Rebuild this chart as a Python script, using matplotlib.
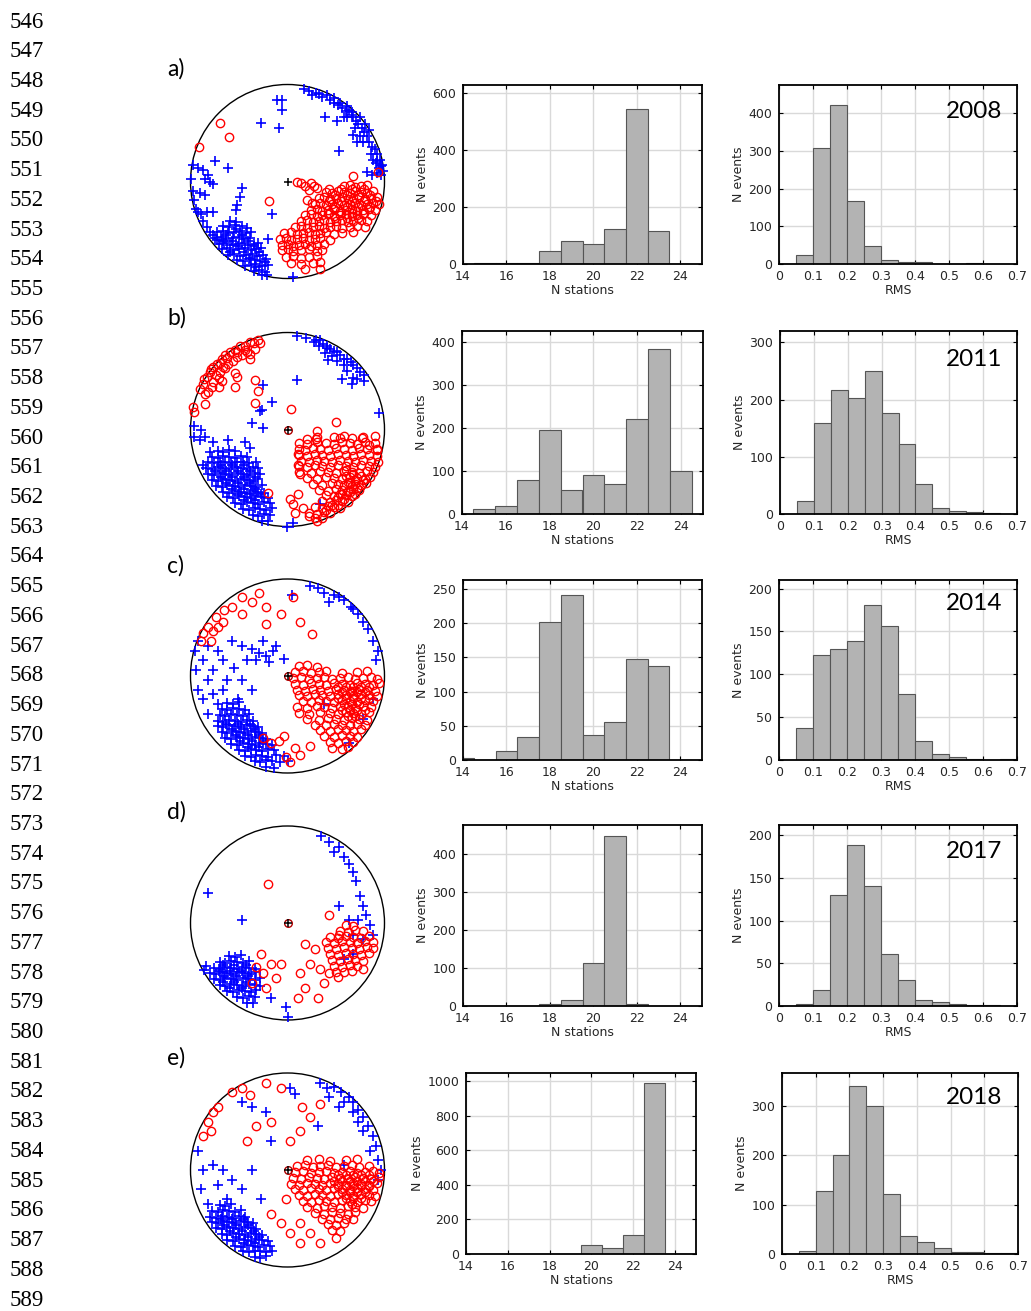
import numpy as np
import matplotlib
matplotlib.use('Agg')
import matplotlib.pyplot as plt
from matplotlib.patches import Circle

# ==========================================
# data
# ==========================================
years = ['2008', '2011', '2014', '2017', '2018']
panel_labels = ['a)', 'b)', 'c)', 'd)', 'e)']
line_numbers = list(range(546, 590))

# N stations histograms (bins centred on integers 14..24)
stations = [14, 15, 16, 17, 18, 19, 20, 21, 22, 23, 24]
nsta_a = [0, 5, 2, 5, 45, 80, 70, 122, 543, 115, 0]
nsta_b = [0, 12, 18, 78, 194, 55, 90, 70, 220, 383, 101]
nsta_c = [3, 0, 13, 33, 201, 241, 36, 55, 148, 137, 0]
nsta_d = [0, 1, 1, 1, 5, 15, 112, 447, 5, 0, 0]
nsta_e = [0, 0, 0, 0, 0, 2, 55, 33, 108, 990, 0]

# RMS histograms (bins of 0.05 from 0 to 0.7)
rms_centers = [0.025, 0.075, 0.125, 0.175, 0.225, 0.275, 0.325,
               0.375, 0.425, 0.475, 0.525, 0.575, 0.625, 0.675]
rms_a = [0, 25, 308, 423, 168, 48, 10, 4, 4, 1, 1, 2, 0, 0]
rms_b = [0, 23, 160, 217, 202, 250, 177, 122, 52, 10, 6, 3, 1, 0]
rms_c = [0, 37, 122, 130, 139, 181, 156, 77, 22, 7, 3, 1, 0, 1]
rms_d = [0, 2, 19, 130, 188, 141, 61, 31, 7, 5, 2, 1, 1, 0]
rms_e = [0, 6, 128, 200, 340, 301, 122, 37, 24, 12, 4, 4, 2, 2]

# stereonet points, x east / y north, in percent of the net radius
a_blue = [
    (17, 95), (22, 93), (25, 89), (29, 91), (32, 90), (36, 87), (41, 89), (44, 84), (48, 81),
    (52, 79), (56, 76), (60, 73), (63, 74), (66, 69), (68, 66), (71, 62), (73, 59), (77, 55),
    (79, 51), (82, 47), (70, 55), (75, 47), (78, 41), (72, 41), (84, 41), (87, 36), (90, 33),
    (92, 28), (95, 22), (97, 17), (94, 14), (92, 9), (96, 7), (98, 11), (88, 22), (86, 28),
    (91, 19), (82, 10), (87, 7), (61, 66), (58, 67), (51, 62), (39, 67), (53, 31), (68, 48),
    (48, 86), (54, 81), (61, 78), (67, 72), (75, 66), (80, 59), (84, 53), (92, 21), (96, 16),
    (-11, 84), (-6, 84), (-6, 74), (-27, 60), (-9, 55),
    (-97, 17), (-99, 3), (-97, -10), (-96, -19), (-92, 14), (-87, 12), (-82, 7), (-80, 0),
    (-77, -3), (-85, 3), (-75, 21), (-61, 14), (-90, -12), (-85, -14), (-94, -28), (-92, -31),
    (-89, -34), (-83, -31), (-77, -31), (-87, -41), (-83, -47), (-80, -52), (-77, -55), (-73, -60),
    (-47, -7), (-49, -16), (-52, -24), (-53, -29), (-16, -34), (-20, -59), (6, -98),
    (-59, -41), (-53, -42),
    (-66, -46), (-60, -47), (-54, -45), (-47, -46), (-42, -48),
    (-73, -52), (-67, -51), (-61, -53), (-55, -52), (-49, -51), (-43, -53), (-38, -52),
    (-75, -58), (-69, -57), (-63, -59), (-56, -58), (-50, -57), (-45, -59), (-39, -58),
    (-71, -64), (-65, -63), (-59, -65), (-53, -64), (-47, -63), (-41, -65), (-35, -64), (-30, -63),
    (-68, -70), (-62, -69), (-56, -71), (-50, -70), (-44, -69), (-38, -71), (-32, -70), (-27, -69),
    (-61, -76), (-55, -75), (-49, -77), (-43, -76), (-37, -75), (-31, -77), (-25, -76),
    (-52, -81), (-46, -82), (-40, -80), (-34, -81), (-28, -82), (-22, -80),
    (-44, -87), (-38, -86), (-32, -88), (-26, -87), (-20, -86),
    (-35, -92), (-29, -91), (-23, -93), (-26, -96), (-21, -96),
    (-63, -55), (-57, -61), (-51, -67), (-45, -73), (-39, -79), (-33, -85), (-53, -49),
    (-47, -55), (-41, -61), (-35, -67), (-29, -73), (-23, -83), (-67, -61), (-59, -73),
]
a_red = [
    (-70, 60), (-60, 46), (-91, 36), (-19, -20), (68, 6), (93, 10),
    (10, -1), (14, -2), (18, -5), (24, -2), (27, -5), (22, -9), (30, -7), (20, -19), (25, -22),
    (58, -5), (64, -4), (70, -6), (76, -5), (82, -4),
    (40, -11), (46, -12), (52, -10), (58, -11), (64, -12), (70, -10), (76, -11), (82, -12), (88, -10),
    (32, -17), (38, -16), (44, -18), (50, -17), (56, -16), (62, -18), (68, -17), (74, -16), (80, -18), (86, -17), (92, -16),
    (28, -23), (34, -22), (40, -24), (46, -23), (52, -22), (58, -24), (64, -23), (70, -22), (76, -24), (82, -23), (88, -22), (94, -23),
    (24, -29), (30, -28), (36, -30), (42, -29), (48, -28), (54, -30), (60, -29), (66, -28), (72, -30), (78, -29), (84, -28), (90, -29),
    (18, -35), (24, -34), (30, -36), (36, -35), (42, -34), (48, -36), (54, -35), (60, -34), (66, -36), (72, -35), (78, -34), (86, -35),
    (14, -41), (20, -40), (26, -42), (32, -41), (38, -40), (44, -42), (50, -41), (56, -40), (62, -42), (68, -41), (76, -40), (82, -41),
    (8, -47), (14, -46), (20, -48), (26, -47), (32, -46), (38, -48), (44, -47), (50, -46), (56, -48), (64, -47), (72, -46), (80, -47),
    (-4, -53), (4, -52), (10, -54), (16, -53), (22, -52), (28, -54), (34, -53), (40, -52), (48, -54), (56, -53), (68, -52),
    (-8, -59), (-2, -58), (4, -60), (10, -59), (16, -58), (22, -60), (28, -59), (34, -58), (44, -60),
    (-6, -65), (0, -64), (6, -66), (12, -65), (18, -64), (24, -66), (30, -65), (38, -64),
    (-6, -71), (0, -70), (6, -72), (14, -71), (22, -70), (30, -72), (36, -71),
    (-2, -78), (6, -77), (14, -79), (22, -78), (30, -77),
    (4, -84), (14, -85), (26, -84), (34, -83), (18, -90), (34, -90),
    (43, -8), (55, -8), (67, -8), (79, -8), (49, -14), (61, -14), (73, -14), (85, -14),
    (43, -20), (55, -20), (67, -20), (79, -20), (91, -20), (49, -26), (61, -26), (73, -26),
    (85, -26), (43, -32), (55, -32), (67, -32), (79, -32), (49, -38), (61, -38), (73, -38),
]

b_blue = [
    (10, 96), (19, 94), (27, 90), (29, 92), (34, 92), (37, 88), (41, 84), (44, 83), (48, 81),
    (51, 80), (54, 77), (58, 73), (61, 73), (65, 70), (68, 66), (72, 63), (75, 59), (79, 56),
    (68, 53), (67, 47), (56, 52), (58, 66), (51, 71), (46, 76), (39, 79), (42, 72), (61, 60),
    (72, 52), (79, 50), (41, 86), (32, 86),
    (10, 51), (-25, 46), (-16, 28), (-28, 19), (-26, 20), (-37, 7), (-25, 2), (94, 17),
    (34, -77), (6, -96), (-1, -100),
    (-96, 4), (-89, -1), (-96, -8), (-90, -11), (-85, -8), (-77, -13), (-61, -11), (-44, -13),
    (-39, -19), (-80, -23), (-87, -37),
    (-72, -22), (-66, -23), (-60, -21), (-54, -22),
    (-78, -28), (-72, -29), (-66, -27), (-60, -28), (-54, -29), (-48, -27), (-42, -28),
    (-82, -34), (-76, -35), (-70, -33), (-64, -34), (-58, -35), (-52, -33), (-46, -34), (-40, -35), (-32, -34),
    (-84, -40), (-78, -41), (-72, -39), (-66, -40), (-60, -41), (-54, -39), (-48, -40), (-42, -41), (-36, -39), (-30, -40),
    (-82, -46), (-76, -47), (-70, -45), (-64, -46), (-58, -47), (-52, -45), (-46, -46), (-40, -47), (-34, -45), (-28, -46),
    (-78, -52), (-72, -53), (-66, -51), (-60, -52), (-54, -53), (-48, -51), (-42, -52), (-36, -53), (-30, -51),
    (-74, -58), (-68, -59), (-62, -57), (-56, -58), (-50, -59), (-44, -57), (-38, -58), (-32, -59), (-26, -57),
    (-66, -64), (-60, -65), (-54, -63), (-48, -64), (-42, -65), (-36, -63), (-30, -64), (-24, -65),
    (-62, -70), (-56, -71), (-50, -69), (-44, -70), (-38, -71), (-32, -69), (-26, -70), (-20, -71),
    (-54, -76), (-48, -77), (-42, -75), (-36, -76), (-30, -77), (-24, -75), (-18, -76),
    (-46, -82), (-40, -83), (-34, -81), (-28, -82), (-22, -83), (-16, -81),
    (-36, -88), (-30, -89), (-24, -87), (-18, -88), (-26, -94), (-20, -94),
    (-69, -37), (-57, -37), (-45, -37), (-75, -43), (-63, -43), (-51, -43), (-39, -43),
    (-69, -49), (-57, -49), (-45, -49), (-33, -49), (-63, -55), (-51, -55), (-39, -55),
    (-57, -61), (-45, -61), (-33, -61), (-51, -67), (-39, -67), (-27, -67), (-45, -73), (-33, -73),
]
b_red = [
    (-90, 42), (-83, 54), (-77, 64), (-68, 73), (-59, 80), (-49, 86), (-39, 90), (-30, 92),
    (-82, 39), (-77, 49), (-70, 59), (-61, 68), (-52, 75), (-42, 80), (-33, 83),
    (-87, 47), (-80, 59), (-73, 68), (-64, 77), (-54, 82), (-44, 86), (-35, 89),
    (-85, 37), (-78, 44), (-71, 53), (-64, 63), (-56, 71), (-47, 77), (-28, 89), (-39, 78),
    (-97, 23), (-96, 18), (-85, 26), (-71, 44), (-54, 58), (-52, 54), (-54, 44), (-39, 73), (-68, 50),
    (-86, 52), (-79, 62), (-70, 69), (-62, 74), (-52, 80), (-44, 82), (-74, 56), (-66, 64),
    (-34, 51), (-30, 40), (-34, 27), (4, 21), (50, 8), (30, -2), (-20, -65),
    (30, -8), (48, -8), (58, -7), (66, -9), (78, -8), (90, -7),
    (12, -14), (20, -15), (30, -13), (40, -14), (48, -15), (56, -13), (64, -14), (72, -15), (80, -13), (90, -14),
    (12, -20), (18, -21), (26, -19), (34, -20), (42, -21), (50, -19), (58, -20), (66, -21), (74, -19), (82, -20), (92, -21),
    (12, -26), (20, -27), (28, -25), (36, -26), (44, -27), (52, -25), (60, -26), (68, -27), (76, -25), (84, -26), (92, -27),
    (14, -32), (22, -33), (30, -31), (38, -32), (46, -33), (54, -31), (62, -32), (70, -33), (78, -31), (86, -32), (93, -33),
    (12, -38), (20, -39), (28, -37), (36, -38), (44, -39), (52, -37), (60, -38), (68, -39), (76, -37), (84, -38), (90, -39),
    (12, -44), (24, -45), (34, -43), (42, -44), (50, -45), (58, -43), (66, -44), (74, -45), (82, -43), (88, -44),
    (20, -50), (30, -51), (40, -49), (48, -50), (56, -51), (64, -49), (72, -50), (80, -51), (85, -49),
    (26, -56), (36, -57), (46, -55), (52, -56), (58, -57), (64, -55), (70, -56), (76, -57), (81, -55),
    (32, -62), (42, -63), (50, -61), (56, -62), (62, -63), (68, -61), (74, -62),
    (40, -68), (48, -69), (54, -67), (60, -68), (66, -69), (70, -67),
    (36, -74), (44, -75), (50, -73), (56, -74), (62, -75),
    (28, -80), (36, -81), (42, -79), (48, -80), (54, -81),
    (22, -86), (30, -87), (38, -85), (44, -86), (28, -91), (36, -91),
    (3, -72), (6, -77), (8, -86), (16, -81), (11, -67), (13, -46), (11, -25), (20, -10),
    (29, -10), (54, -9), (77, -9), (84, -16), (92, -20), (22, -89), (30, -94), (11, -37),
    (60, -48), (68, -46), (76, -48), (62, -54), (70, -52), (78, -52), (66, -58), (72, -60),
    (56, -66), (64, -64), (52, -70), (58, -72), (46, -78), (52, -78), (40, -83), (60, -42),
]

c_blue = [
    (23, 93), (31, 91), (38, 86), (48, 84), (58, 78), (65, 71), (73, 64), (78, 56), (83, 48),
    (88, 36), (93, 26), (91, 16), (53, 81), (68, 69), (43, 76), (5, 83),
    (-57, 36), (-47, 31), (-37, 28), (-29, 24), (-22, 21), (-15, 26), (-19, 14), (-32, 16),
    (-42, 16), (-12, 31), (-25, 36), (-4, 18), (-72, 26), (-82, 31), (-67, 16), (-55, 8), (-62, -4),
    (-92, 36), (-95, 26), (-94, 6), (-92, -14), (-87, -24), (-82, -4), (-77, -19), (-87, 16),
    (-77, 6), (-72, -29), (-67, -14), (-82, -39), (-47, -4), (-37, -14), (-51, -24),
    (78, -44), (88, -24), (63, -69), (38, -29),
    (-62, -28), (-56, -29), (-50, -27),
    (-68, -34), (-62, -35), (-56, -33), (-50, -34), (-44, -35),
    (-70, -40), (-64, -41), (-58, -39), (-52, -40), (-46, -41), (-40, -39),
    (-72, -46), (-66, -47), (-60, -45), (-54, -46), (-48, -47), (-42, -45), (-36, -46),
    (-72, -52), (-66, -53), (-60, -51), (-54, -52), (-48, -53), (-42, -51), (-36, -52), (-30, -53),
    (-68, -58), (-62, -59), (-56, -57), (-50, -58), (-44, -59), (-38, -57), (-32, -58), (-26, -59),
    (-64, -64), (-58, -65), (-52, -63), (-46, -64), (-40, -65), (-34, -63), (-28, -64), (-22, -65),
    (-58, -70), (-52, -71), (-46, -69), (-40, -70), (-34, -71), (-28, -69), (-22, -70), (-16, -71),
    (-50, -76), (-44, -77), (-38, -75), (-32, -76), (-26, -77), (-20, -75), (-14, -76),
    (-44, -82), (-38, -83), (-32, -81), (-26, -82), (-20, -83), (-12, -81), (-4, -82),
    (-34, -88), (-28, -89), (-22, -87), (-16, -88), (-8, -89), (0, -88), (-22, -94), (-14, -95),
    (-63, -49), (-51, -49), (-39, -49), (-57, -55), (-45, -55), (-33, -55), (-53, -61),
    (-41, -61), (-29, -61), (-49, -67), (-37, -67), (-25, -67), (-41, -73), (-29, -73),
]
c_red = [
    (-82, 51), (-77, 46), (-87, 44), (-72, 51), (-79, 36), (-89, 36), (-67, 56), (-74, 61),
    (-57, 71), (-47, 81), (-37, 76), (-29, 86), (-47, 64), (-22, 71), (-7, 64), (6, 81),
    (-22, 54), (25, 43), (13, 56), (-65, 68),
    (12, 10), (20, 11), (30, 9),
    (8, 4), (16, 5), (24, 3), (32, 4), (40, 5), (56, 3), (72, 4), (82, 5),
    (6, -2), (14, -1), (22, -3), (30, -2), (38, -1), (46, -3), (54, -2), (62, -1), (70, -3), (78, -2), (86, -1), (92, -3),
    (8, -8), (16, -9), (24, -7), (32, -8), (40, -9), (48, -7), (56, -8), (64, -9), (72, -7), (80, -8), (88, -9), (94, -7),
    (10, -14), (18, -15), (26, -13), (34, -14), (42, -15), (50, -13), (58, -14), (66, -15), (74, -13), (82, -14), (90, -15),
    (12, -20), (20, -21), (28, -19), (36, -20), (44, -21), (52, -19), (60, -20), (68, -21), (76, -19), (84, -20), (92, -21),
    (16, -26), (24, -27), (32, -25), (40, -26), (48, -27), (56, -25), (64, -26), (72, -27), (80, -25), (88, -26),
    (10, -32), (20, -33), (30, -31), (38, -32), (46, -33), (54, -31), (62, -32), (70, -33), (78, -31), (86, -32),
    (12, -38), (22, -39), (34, -37), (44, -38), (52, -39), (60, -37), (68, -38), (76, -39), (84, -37),
    (20, -44), (32, -45), (42, -43), (50, -44), (58, -45), (66, -43), (74, -44), (82, -45),
    (28, -50), (40, -51), (48, -49), (56, -50), (64, -51), (72, -49), (80, -50),
    (34, -56), (44, -57), (52, -55), (60, -56), (68, -57), (76, -55),
    (38, -62), (48, -63), (56, -61), (64, -62), (72, -63),
    (44, -68), (52, -69), (60, -67), (68, -68), (46, -74), (56, -75), (62, -73),
    (-25, -64), (-17, -69), (-9, -67), (-2, -84), (3, -89), (8, -74), (13, -81), (23, -72), (-4, -62),
    (52, -11), (60, -11), (68, -11), (76, -11), (84, -11), (56, -17), (64, -17), (72, -17),
    (80, -17), (52, -23), (60, -23), (68, -23), (76, -23), (84, -23), (58, -29), (66, -29),
    (74, -29), (56, -35), (64, -35), (72, -35), (80, -35), (62, -41), (70, -41),
]

d_blue = [
    (35, 90), (43, 83), (48, 73), (53, 78), (58, 68), (63, 61), (68, 53), (71, 43), (75, 28),
    (78, 18), (81, 8), (85, -2), (73, 3), (68, -12), (53, 18), (63, 3), (78, -17), (88, -12),
    (-82, 31), (-47, 3), (58, -37), (68, -32), (0, -97), (-17, -77), (-2, -87), (-86, -48), (-84, -44),
    (-60, -34), (-54, -35), (-48, -33),
    (-70, -40), (-64, -41), (-58, -39), (-52, -40), (-46, -41), (-40, -39),
    (-76, -46), (-70, -47), (-64, -45), (-58, -46), (-52, -47), (-46, -45), (-40, -46), (-34, -47),
    (-80, -52), (-74, -53), (-68, -51), (-62, -52), (-56, -53), (-50, -51), (-44, -52), (-38, -53), (-32, -51),
    (-76, -58), (-70, -59), (-64, -57), (-58, -58), (-52, -59), (-46, -57), (-40, -58), (-34, -59), (-28, -57),
    (-70, -64), (-64, -65), (-58, -63), (-52, -64), (-46, -65), (-40, -63), (-34, -64), (-28, -65),
    (-62, -70), (-56, -71), (-50, -69), (-44, -70), (-38, -71), (-32, -69),
    (-52, -76), (-46, -77), (-40, -75), (-34, -76), (-42, -82), (-36, -82),
    (-67, -43), (-55, -43), (-43, -43), (-71, -49), (-59, -49), (-47, -49), (-65, -55),
    (-53, -55), (-41, -55), (-67, -61), (-55, -61), (-43, -61), (-59, -67), (-47, -67),
]
d_red = [
    (-20, 40),
    (-32, -45), (-25, -52), (-17, -42), (-37, -62), (-22, -67), (-12, -57), (-7, -42), (-27, -32),
    (11, -77), (18, -67), (13, -52), (23, -42), (18, -22), (33, -47), (38, -62), (31, -77),
    (60, -2), (68, -3),
    (54, -8), (62, -9), (70, -7), (78, -8),
    (44, -14), (52, -15), (60, -13), (68, -14), (76, -15), (84, -13),
    (40, -20), (48, -21), (56, -19), (64, -20), (72, -21), (80, -19), (88, -20),
    (42, -26), (50, -27), (58, -25), (66, -26), (74, -27), (82, -25), (88, -26),
    (44, -32), (52, -33), (60, -31), (68, -32), (76, -33), (84, -31),
    (46, -38), (54, -39), (62, -37), (70, -38), (78, -39),
    (48, -44), (56, -45), (64, -43), (72, -44),
    (50, -50), (58, -51), (66, -49), (52, -56),
    (43, 8), (53, -12), (28, -27), (43, -52), (78, -47),
]

e_blue = [
    (33, 90), (41, 85), (48, 86), (55, 80), (63, 75), (68, 70), (73, 62), (78, 55), (83, 45),
    (88, 35), (91, 25), (93, 10), (96, 0), (93, -10), (58, 70), (68, 60), (78, 40), (85, 20),
    (53, 65), (73, 50), (43, 75),
    (3, 85), (8, 78), (-47, 70), (-37, 65), (-22, 60), (-17, 30), (31, 45), (58, 5),
    (-92, 20), (-87, 0), (-89, -20), (-77, 5), (-67, 0), (-72, -15), (-57, -10), (-47, -20),
    (-27, -30), (-62, -30), (-82, -35), (-37, 0),
    (-70, -36), (-64, -37), (-58, -35),
    (-78, -42), (-72, -43), (-66, -41), (-60, -42), (-54, -43), (-48, -41),
    (-80, -48), (-74, -49), (-68, -47), (-62, -48), (-56, -49), (-50, -47), (-44, -48),
    (-78, -54), (-72, -55), (-66, -53), (-60, -54), (-54, -55), (-48, -53), (-42, -54), (-36, -55),
    (-74, -60), (-68, -61), (-62, -59), (-56, -60), (-50, -61), (-44, -59), (-38, -60), (-32, -61),
    (-68, -66), (-62, -67), (-56, -65), (-50, -66), (-44, -67), (-38, -65), (-32, -66), (-26, -67),
    (-62, -72), (-56, -73), (-50, -71), (-44, -72), (-38, -73), (-32, -71), (-26, -72), (-20, -73),
    (-54, -78), (-48, -79), (-42, -77), (-36, -78), (-30, -79), (-24, -77), (-18, -78),
    (-46, -84), (-40, -85), (-34, -83), (-28, -84), (-22, -85), (-16, -83),
    (-34, -90), (-28, -91), (-22, -89),
    (-69, -51), (-57, -51), (-45, -51), (-65, -57), (-53, -57), (-41, -57), (-59, -63),
    (-47, -63), (-35, -63), (-53, -69), (-41, -69), (-29, -69), (-45, -75), (-33, -75),
]
e_red = [
    (-82, 50), (-77, 60), (-79, 40), (-72, 65), (-87, 35),
    (-57, 80), (-47, 85), (-39, 77), (-22, 90), (-7, 85), (15, 65), (33, 68), (23, 55), (13, 40),
    (3, 30), (-17, 50), (-32, 45), (-42, 30),
    (20, 10), (32, 11), (44, 9), (60, 10), (72, 11),
    (10, 4), (18, 5), (26, 3), (34, 4), (42, 5), (50, 3), (58, 4), (66, 5), (74, 3), (84, 4),
    (8, -2), (16, -1), (24, -3), (32, -2), (40, -1), (48, -3), (56, -2), (64, -1), (72, -3), (80, -2), (88, -1), (94, -3),
    (6, -8), (14, -9), (22, -7), (30, -8), (38, -9), (46, -7), (54, -8), (62, -9), (70, -7), (78, -8), (86, -9), (94, -7),
    (4, -14), (12, -15), (20, -13), (28, -14), (36, -15), (44, -13), (52, -14), (60, -15), (68, -13), (76, -14), (84, -15), (92, -13),
    (8, -20), (16, -21), (24, -19), (32, -20), (40, -21), (48, -19), (56, -20), (64, -21), (72, -19), (80, -20), (88, -21),
    (12, -26), (20, -27), (28, -25), (36, -26), (44, -27), (52, -25), (60, -26), (68, -27), (76, -25), (84, -26), (90, -27),
    (16, -32), (24, -33), (32, -31), (40, -32), (48, -33), (56, -31), (64, -32), (72, -33), (80, -31), (86, -32),
    (20, -38), (30, -39), (38, -37), (46, -38), (54, -39), (62, -37), (70, -38), (78, -39),
    (28, -44), (38, -45), (46, -43), (54, -44), (62, -45), (70, -43),
    (36, -50), (44, -51), (52, -49), (60, -50), (68, -51),
    (42, -56), (50, -57), (58, -55), (46, -62), (54, -63), (50, -70),
    (-17, -45), (-7, -55), (3, -65), (13, -75), (-2, -30), (13, -55), (23, -65), (33, -75),
    (52, -5), (60, -5), (68, -5), (76, -5), (84, -5), (48, -11), (56, -11), (64, -11),
    (72, -11), (80, -11), (88, -11), (52, -17), (60, -17), (68, -17), (76, -17), (84, -17),
    (56, -23), (64, -23), (72, -23), (80, -23), (60, -29), (68, -29), (76, -29), (66, -35),
]

# ==========================================
# layout (pixel geometry of the page)
# ==========================================
W, H = 1031, 1311
fig = plt.figure(figsize=(W / 100, H / 100), dpi=100)

net_cy = [181.5, 429.5, 676, 923, 1170]
hist_tb = [(85, 264), (331, 514), (580, 760), (825, 1006), (1073, 1254)]
nsta_lr = [(463, 702), (462, 703), (463, 702), (463, 702), (466, 696)]
rms_lr = [(779, 1017), (780, 1017), (779, 1017), (779, 1017), (782, 1018)]
year_y = [112, 359, 603, 851, 1097]
label_y = [69, 318, 566, 812, 1058]

nsta_all = [nsta_a, nsta_b, nsta_c, nsta_d, nsta_e]
rms_all = [rms_a, rms_b, rms_c, rms_d, rms_e]
nsta_ylim = [627, 425, 263, 475, 1048]
nsta_yticks = [[0, 200, 400, 600], [0, 100, 200, 300, 400], [0, 50, 100, 150, 200, 250],
               [0, 100, 200, 300, 400], [0, 200, 400, 600, 800, 1000]]
rms_ylim = [475, 320, 210, 212, 367]
rms_yticks = [[0, 100, 200, 300, 400], [0, 100, 200, 300], [0, 50, 100, 150, 200],
              [0, 50, 100, 150, 200], [0, 100, 200, 300]]
blues = [a_blue, b_blue, c_blue, d_blue, e_blue]
reds = [a_red, b_red, c_red, d_red, e_red]

tick_font = {'family': 'DejaVu Sans', 'size': 9, 'color': '#262626'}


def px_axes(l, t, r, b):
    return fig.add_axes([l / W, 1 - b / H, (r - l) / W, (b - t) / H])


def style_hist(ax, xlim, xticks, xticklabels, ylim, yticks, xlabel):
    ax.set_xlim(xlim)
    ax.set_ylim(0, ylim)
    ax.set_xticks(xticks)
    ax.set_xticklabels(xticklabels, fontdict=tick_font)
    ax.set_yticks(yticks)
    ax.set_yticklabels([str(v) for v in yticks], fontdict=tick_font)
    ax.set_xlabel(xlabel, fontdict=tick_font, labelpad=1)
    ax.set_ylabel('N events', fontdict=tick_font, labelpad=2)
    ax.grid(True, color='#d9d9d9', linewidth=1.0)
    ax.set_axisbelow(True)
    ax.tick_params(axis='x', direction='in', top=True, length=3, width=0.8, pad=4)
    ax.tick_params(axis='y', direction='in', right=True, length=3, width=0.8, pad=5)
    for s in ax.spines.values():
        s.set_linewidth(1.3)
        s.set_color('black')


for i in range(5):
    # stereonet
    half = 110 * 0.97
    ax = px_axes(287.5 - half, net_cy[i] - half, 287.5 + half, net_cy[i] + half)
    ax.set_xlim(-110, 110)
    ax.set_ylim(-110, 110)
    ax.set_aspect('equal')
    ax.axis('off')
    ax.add_patch(Circle((0, 0), 100, fill=False, color='black', linewidth=1.0, zorder=1))
    bx, by = np.array(blues[i]).T
    rx, ry = np.array(reds[i]).T
    ax.plot(bx, by, '+', color='#0000ff', markersize=6.5, markeredgewidth=1.2, zorder=2)
    ax.plot(rx, ry, 'o', color='#ff0000', markerfacecolor='none', markersize=6,
            markeredgewidth=1.0, zorder=3)
    if i > 0:
        ax.plot([0], [0], 'o', color='#b00000', markerfacecolor='none', markersize=5.5,
                markeredgewidth=1.0, zorder=4)
    ax.plot([0], [0], '+', color='black', markersize=6, markeredgewidth=1.1, zorder=5)

    # N stations histogram
    l, r = nsta_lr[i]
    t, b = hist_tb[i]
    ax = px_axes(l, t, r, b)
    ax.bar(stations, nsta_all[i], width=1.0, color='#b3b3b3', edgecolor='#555555',
           linewidth=0.8, zorder=2)
    style_hist(ax, (14, 25), [14, 16, 18, 20, 22, 24], ['14', '16', '18', '20', '22', '24'],
               nsta_ylim[i], nsta_yticks[i], 'N stations')

    # RMS histogram
    l, r = rms_lr[i]
    ax = px_axes(l, t, r, b)
    ax.bar(rms_centers, rms_all[i], width=0.05, color='#b3b3b3', edgecolor='#555555',
           linewidth=0.8, zorder=2)
    style_hist(ax, (0, 0.7), [0, 0.1, 0.2, 0.3, 0.4, 0.5, 0.6, 0.7],
               ['0', '0.1', '0.2', '0.3', '0.4', '0.5', '0.6', '0.7'],
               rms_ylim[i], rms_yticks[i], 'RMS')

    fig.text(1002 / W, 1 - year_y[i] / H, years[i], ha='right', va='center',
             family='Lato', fontsize=17.5, color='black')
    fig.text(167 / W, 1 - label_y[i] / H, panel_labels[i], ha='left', va='center',
             family='Lato', fontsize=16.5, color='black')

# line numbers down the left margin
for k, n in enumerate(line_numbers):
    y = 22 + k * (1300 - 22) / 43
    fig.text(10 / W, 1 - y / H, str(n), ha='left', va='center',
             family='Liberation Serif', fontsize=16.5, color='black')

fig.savefig('out.png', dpi=100)
